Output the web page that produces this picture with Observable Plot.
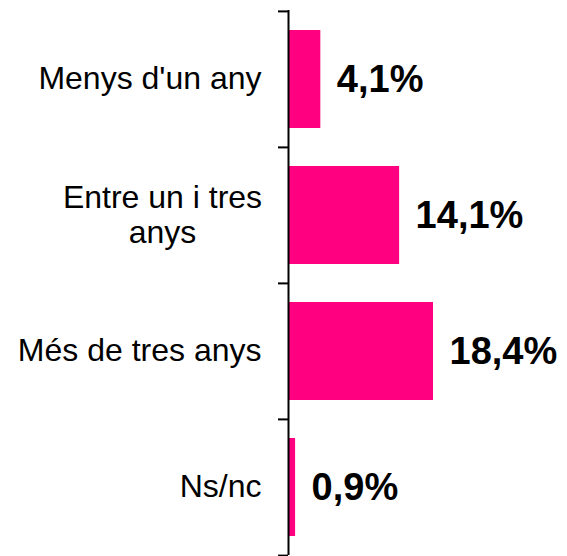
<!DOCTYPE html>
<html><head><meta charset="utf-8">
<script src="https://cdn.jsdelivr.net/npm/d3@7"></script>
<script src="https://cdn.jsdelivr.net/npm/@observablehq/plot@0.6"></script>
<style>body{margin:0;background:#fff}</style>
</head><body><div id="chart"></div>
<script>
const categories = ["Menys d'un any", "Entre un i tres\nanys", "Més de tres anys", "Ns/nc"];
const values = [4.1, 14.1, 18.4, 0.9];
const valueLabels = ["4,1%", "14,1%", "18,4%", "0,9%"];

const data = categories.map((c, i) => ({category: c, value: values[i], label: valueLabels[i]}));
const single = data.filter(d => !d.category.includes("\n"));
const multi = data.filter(d => d.category.includes("\n"));
const font = "Arial, 'Liberation Sans', sans-serif";
const halfStep = 68.1;

const chart = Plot.plot({
  width: 567, height: 556,
  marginLeft: 288, marginRight: 134, marginTop: 10, marginBottom: 1,
  style: {fontFamily: font, background: "#fff", color: "#000"},
  x: {domain: [0, 18.4], axis: null},
  y: {domain: categories, paddingInner: 0.28, paddingOuter: 0.14, axis: null},
  marks: [
    Plot.barX(data, {x: "value", y: "category", fill: "#ff0080"}),
    Plot.text(data, {x: "value", y: "category", text: "label", textAnchor: "start", dx: 16,
      fontSize: 38, fontWeight: "bold", fill: "#000"}),
    Plot.text(single, {y: "category", text: "category", frameAnchor: "left", textAnchor: "end",
      dx: -27, dy: -1, fontSize: 32, fill: "#000"}),
    Plot.text(multi, {y: "category", text: "category", frameAnchor: "left", textAnchor: "middle",
      dx: -126, dy: -1, fontSize: 32, lineHeight: 1.1, fill: "#000"}),
    Plot.axisY({tickSize: 10, tickFormat: () => "", label: null, dy: -halfStep, strokeWidth: 2}),
    Plot.axisY({ticks: [categories[categories.length - 1]], tickSize: 10, tickFormat: () => "", label: null, dy: halfStep, strokeWidth: 2}),
    Plot.ruleX([0], {stroke: "#000", strokeWidth: 2})
  ]
});
document.getElementById("chart").appendChild(chart);
</script>
</body></html>
